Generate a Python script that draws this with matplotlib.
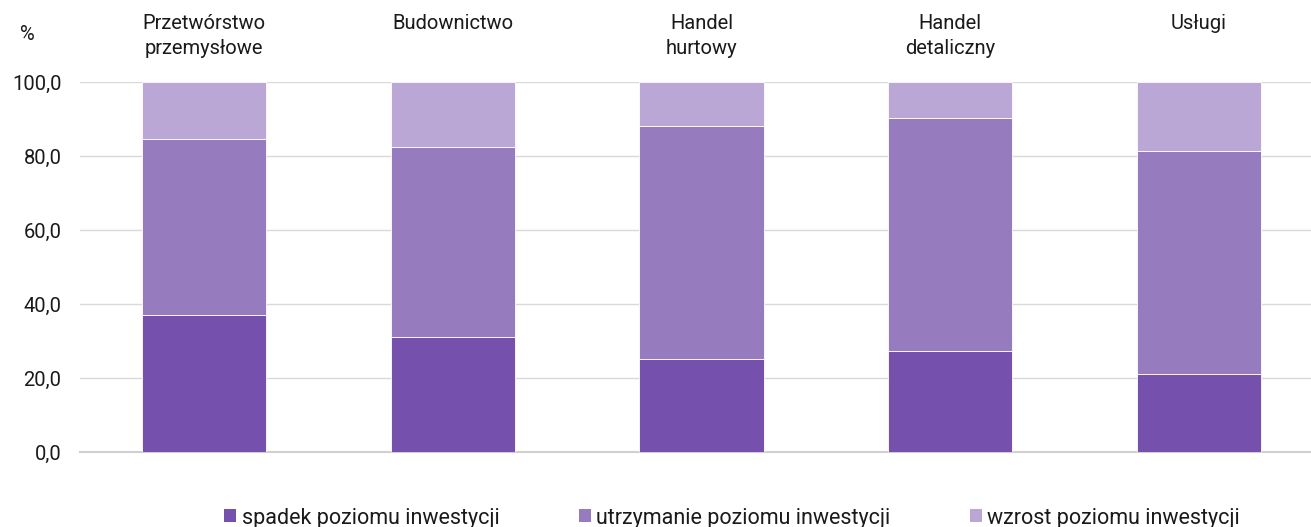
import matplotlib.pyplot as plt
from matplotlib.patches import Patch
from matplotlib.ticker import FuncFormatter

plt.rcParams['font.family'] = ['Roboto', 'DejaVu Sans']

categories = ["Przetwórstwo\nprzemysłowe", "Budownictwo", "Handel\nhurtowy",
              "Handel\ndetaliczny", "Usługi"]
series_names = ["spadek poziomu inwestycji", "utrzymanie poziomu inwestycji",
                "wzrost poziomu inwestycji"]
spadek = [37.0, 31.0, 25.1, 27.4, 21.2]
utrzymanie = [47.5, 51.5, 63.1, 62.9, 60.2]
wzrost = [15.5, 17.5, 11.8, 9.7, 18.6]
colors = ["#7550ac", "#967cbf", "#bba7d6"]

fig = plt.figure(figsize=(13.11, 5.27), dpi=100)
ax = fig.add_axes([0.0607, 0.1423, 0.9487, 0.7021])

x = range(len(categories))
bottom = [0.0] * len(categories)
for vals, col in zip([spadek, utrzymanie, wzrost], colors):
    ax.bar(x, vals, bottom=bottom, width=0.5, color=col, edgecolor="white",
           linewidth=0.6, zorder=3)
    bottom = [b + v for b, v in zip(bottom, vals)]

ax.set_xlim(-0.5, len(categories) - 0.5)
ax.set_ylim(0, 100)
ax.set_yticks(range(0, 101, 20))
ax.yaxis.set_major_formatter(FuncFormatter(lambda v, p: f"{v:.1f}".replace(".", ",")))
ax.grid(axis="y", color="#d9d9d9", linewidth=1, zorder=0)
ax.set_xticks([])
for s in ["top", "right", "left"]:
    ax.spines[s].set_visible(False)
ax.spines["bottom"].set_color("#d0d0d0")
ax.spines["bottom"].set_linewidth(1.5)
ax.tick_params(axis="y", length=0, pad=13, labelsize=14.5, labelcolor="#1a1a1a")

# category labels above the plot
for i, name in enumerate(categories):
    ax.text(i, 1.185, name, transform=ax.get_xaxis_transform(), ha="center",
            va="top", fontsize=14.5, linespacing=1.4, color="#1a1a1a")

fig.text(0.021, 0.935, "%", fontsize=14.5, ha="center", va="center", color="#1a1a1a")

handles = [Patch(facecolor=c, edgecolor="none") for c in colors]
fig.legend(handles, series_names, loc="center", bbox_to_anchor=(0.5585, 0.017),
           ncol=3, frameon=False, fontsize=15.5, handlelength=0.55, handleheight=0.55,
           handletextpad=0.25, columnspacing=3.7, labelcolor="#1a1a1a")

fig.savefig("out.png", dpi=100)
plt.close(fig)
